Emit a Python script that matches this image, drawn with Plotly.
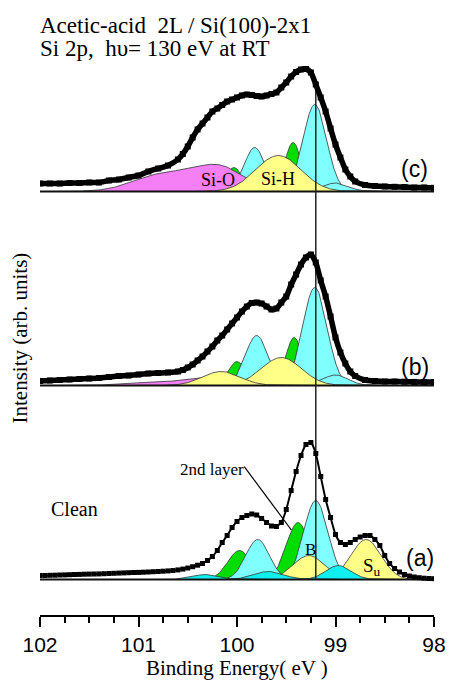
import numpy as np
import plotly.graph_objects as go

# ---------------- data ----------------
# Binding energy grid (eV) for spectra (c) and (b)
energy_bc = [102.0, 101.9, 101.8, 101.7, 101.6, 101.5, 101.4, 101.3, 101.2, 101.1,
             101.0, 100.9, 100.8, 100.7, 100.6, 100.55, 100.5, 100.45, 100.4, 100.35,
             100.3, 100.25, 100.2, 100.15, 100.1, 100.05, 100.0, 99.95, 99.9, 99.85,
             99.8, 99.75, 99.7, 99.65, 99.6, 99.55, 99.5, 99.45, 99.4, 99.35,
             99.3, 99.25, 99.2, 99.15, 99.1, 99.05, 99.0, 98.95, 98.9, 98.85,
             98.8, 98.7, 98.6, 98.5, 98.4, 98.3, 98.2, 98.1, 98.0]

# (c) acetic acid, take-off angle 60 deg
spec_c = [8, 8, 8, 8.5, 8.5, 9, 9, 11, 12, 14,
          16, 20, 23, 26, 32, 37.5, 45, 54, 62, 68,
          74, 80, 83, 86.5, 90, 92, 94, 96, 97, 96.5,
          95.5, 95, 96, 97.5, 99, 104, 109, 115, 119.5, 122,
          122.5, 119, 107, 94, 80, 63, 47, 34, 22, 15,
          10, 6.5, 5.5, 5, 4.7, 4.5, 4, 4, 3.7]

# (b) acetic acid, take-off angle 0 deg
spec_b = [4.5, 5, 5.5, 6, 6.5, 7, 7.5, 8.5, 9.5, 10,
          11, 12, 12.5, 13, 14, 15.5, 18, 21, 25, 29,
          34, 39, 45, 50, 56, 62, 68, 74, 79, 82.5,
          83, 82, 79, 76, 77, 83, 89, 101, 111, 121,
          128, 131, 123, 105, 89, 69, 48, 33, 22, 14,
          9.5, 5.5, 4.5, 4, 4, 3.8, 3.6, 3.5, 3.5]

# (a) clean surface, take-off angle 60 deg
energy_a = [102.0, 101.95, 101.9, 101.85, 101.8, 101.75, 101.7, 101.65, 101.6, 101.55,
            101.5, 101.45, 101.4, 101.35, 101.3, 101.25, 101.2, 101.15, 101.1, 101.05,
            101.0, 100.95, 100.9, 100.85, 100.8, 100.75, 100.7, 100.65, 100.6, 100.55,
            100.5, 100.45, 100.4, 100.35, 100.3, 100.25, 100.2, 100.15, 100.1, 100.05,
            100.0, 99.95, 99.9, 99.85, 99.8, 99.75, 99.7, 99.65, 99.6, 99.55,
            99.5, 99.45, 99.4, 99.35, 99.3, 99.25, 99.2, 99.15, 99.1, 99.05,
            99.0, 98.95, 98.9, 98.85, 98.8, 98.75, 98.7, 98.65, 98.6, 98.55,
            98.5, 98.45, 98.4, 98.35, 98.3, 98.25, 98.2, 98.15, 98.1, 98.05, 98.0]
spec_a = [4, 4, 4.2, 4.3, 4.5, 4.6, 4.8, 5, 5.1, 5.3,
          5.4, 5.5, 5.6, 5.8, 6, 6.2, 6.4, 6.6, 6.8, 7,
          7.1, 7.3, 7.5, 7.8, 8, 8.3, 8.6, 9, 9.6, 10.4,
          11.5, 12.8, 14.3, 16, 19, 23, 29, 37, 44, 52,
          58, 62, 64, 65.5, 64.5, 61, 57, 53.5, 53, 57,
          70, 89, 108, 124, 135, 137, 126, 103, 80, 62,
          45, 37, 35, 37, 40, 42.5, 44, 44, 40, 34,
          24, 16, 11, 7.5, 5, 3.5, 2.5, 1.8, 1.3, 1, 0.8]

# Fitted Gaussian components: (centre eV, height, FWHM eV)
c_green = [(100.03, 24, 0.2), (99.43, 49, 0.2)]
c_cyan = [(99.21, 87, 0.28), (99.82, 44, 0.25), (99.0, 8.5, 0.3)]
c_pink = [(100.18, 24, 0.6), (100.75, 17, 0.7)]          # Si-O (drawn as one band)
c_yellow = [(99.58, 36, 0.54)]                            # Si-H

b_green = [(100.0, 24, 0.2), (99.42, 48, 0.2)]
b_cyan = [(99.21, 98, 0.29), (99.8, 50, 0.27), (99.0, 10.5, 0.3)]
b_pink = [(100.15, 8, 0.5), (100.7, 4, 0.8)]
b_yellow = [(99.55, 28, 0.48), (100.16, 14, 0.45)]

a_green = [(99.975, 29, 0.28), (99.38, 57, 0.28)]        # 2nd layer
a_cyan = [(99.2, 79, 0.29), (99.79, 40, 0.28)]
a_yellow = [(99.27, 24, 0.38), (98.69, 40, 0.36)]        # B, Su
a_cyan2 = [(98.97, 14, 0.3), (99.68, 8, 0.36), (100.32, 5, 0.3)]

offsets = {"a": 0, "b": 194, "c": 388}
line_energy = 99.2

# ---------------- styling ----------------
SERIF = "Liberation Serif, Times New Roman, serif"
SANS = "Liberation Sans, Arial, sans-serif"
COL = {"green": "#00DD00", "cyan": "#80FFFF", "pink": "#F580F5",
       "yellow": "#FFFF88", "cyan2": "#10F0F0"}

fig = go.Figure()


def gauss(x, c, h, w):
    s = w / 2.3548
    return h * np.exp(-0.5 * ((x - c) / s) ** 2)


def add_band(peaks, off, color):
    lo = min(c - 2.2 * w for c, h, w in peaks)
    hi = max(c + 2.2 * w for c, h, w in peaks)
    lo, hi = max(lo, 98.0), min(hi, 102.0)
    xs = np.linspace(lo, hi, 300)
    ys = sum(gauss(xs, c, h, w) for c, h, w in peaks) + off
    fig.add_trace(go.Scatter(
        x=np.concatenate([[lo], xs, [hi]]), y=np.concatenate([[off], ys, [off]]),
        mode="lines", fill="toself", fillcolor=color,
        line=dict(color="#333333", width=0.8), hoverinfo="skip"))


def add_each(peaks, off, color):
    for p in peaks:
        add_band([p], off, color)


# (c)
oc = offsets["c"]
add_each(c_green, oc, COL["green"])
add_each(c_cyan, oc, COL["cyan"])
add_band(c_pink, oc, COL["pink"])
add_each(c_yellow, oc, COL["yellow"])
# (b)
ob = offsets["b"]
add_each(b_green, ob, COL["green"])
add_each(b_cyan, ob, COL["cyan"])
add_band(b_pink, ob, COL["pink"])
add_each(b_yellow, ob, COL["yellow"])
# (a)
oa = offsets["a"]
add_each(a_green, oa, COL["green"])
add_each(a_cyan, oa, COL["cyan"])
add_each(a_yellow, oa, COL["yellow"])
add_each(a_cyan2, oa, COL["cyan2"])

# baselines
for k in ["a", "b", "c"]:
    fig.add_trace(go.Scatter(x=[102, 98], y=[offsets[k], offsets[k]], mode="lines",
                             line=dict(color="#111111", width=2), hoverinfo="skip"))

# vertical reference line
fig.add_trace(go.Scatter(x=[line_energy, line_energy],
                         y=[offsets["a"], offsets["c"] + 109], mode="lines",
                         line=dict(color="#222222", width=1.5), hoverinfo="skip"))

# measured spectra
for spec, off in [(spec_c, oc), (spec_b, ob)]:
    fig.add_trace(go.Scatter(
        x=energy_bc, y=[v + off for v in spec], mode="lines+markers",
        line=dict(color="black", width=5.5, shape="spline", smoothing=0.6),
        marker=dict(symbol="square", size=6, color="black"), hoverinfo="skip"))
fig.add_trace(go.Scatter(
    x=energy_a, y=[v + oa for v in spec_a], mode="lines+markers",
    line=dict(color="black", width=2, shape="spline", smoothing=0.5),
    marker=dict(symbol="square", size=5, color="black"), hoverinfo="skip"))

# ---------------- annotations ----------------
ann = []


def txt(text, x, y, size=20, family=SERIF, xanchor="center", xref="x", yref="y", angle=0):
    ann.append(dict(text=text, x=x, y=y, xref=xref, yref=yref, showarrow=False,
                    xanchor=xanchor, yanchor="middle", textangle=angle,
                    font=dict(family=family, size=size, color="black")))


txt("Acetic-acid\u00a0\u00a02L / Si(100)-2x1", -0.005, 1.0085, size=23, xanchor="left",
    xref="paper", yref="paper")
txt("Si 2p,\u00a0\u00a0hυ= 130 eV at RT", -0.005, 0.968, size=23, xanchor="left",
    xref="paper", yref="paper")
txt("Intensity (arb. units)", -0.052, 0.4735, size=21, xref="paper", yref="paper", angle=-90)
txt("Binding Energy( eV )", 100.0, -0.0906, size=21, yref="paper")

txt("take-off angle 60<sup>o</sup>", 102.005, oc + 36, size=20, xanchor="left")
txt("(c)", 98.2, oc + 23, size=23, family=SANS)
txt("Si-O", 100.19, oc + 11.5, size=18)
txt("Si-H", 99.58, oc + 12.5, size=18)

txt("take-off angle 0<sup>o</sup>", 102.005, ob + 32.5, size=20, xanchor="left")
txt("(b)", 98.19, ob + 18.5, size=23, family=SANS)

txt("Clean", 101.648, oa + 70.5, size=20)
txt("take-off angle 60<sup>o</sup>", 102.025, oa + 38, size=20, xanchor="left")
txt("(a)", 98.145, oa + 21.5, size=23, family=SANS)
txt("2nd layer", 100.252, oa + 110.5, size=17)
txt("B", 99.252, oa + 30.5, size=17)
txt("S<sub>u</sub>", 98.63, oa + 13, size=19)

fig.update_layout(
    width=458, height=681, margin=dict(l=40, r=14, t=30, b=66),
    paper_bgcolor="white", plot_bgcolor="white", showlegend=False,
    annotations=ann,
    shapes=[dict(type="line", xref="x", yref="y", x0=99.926, y0=oa + 112.8,
                 x1=99.448, y1=oa + 49.5, line=dict(color="black", width=1.2))],
    xaxis=dict(range=[102, 98], tickmode="linear", tick0=98, dtick=1,
               ticks="outside", ticklen=10, tickwidth=1.5, tickcolor="black",
               showline=True, linecolor="black", linewidth=1.5,
               showgrid=False, zeroline=False,
               tickfont=dict(family=SANS, size=21, color="black"),
               minor=dict(tick0=98, dtick=0.25, ticks="outside", ticklen=6,
                          tickwidth=1.5, tickcolor="black", showgrid=False)),
    yaxis=dict(range=[-35.5, 549.5], visible=False),
)

# remove the browser's default page margin so the figure sits at (0, 0)
fig.write_html("out.html",
               config={"displayModeBar": False},
               post_script="document.body.style.margin='0';"
                           "document.documentElement.style.overflow='hidden';")
